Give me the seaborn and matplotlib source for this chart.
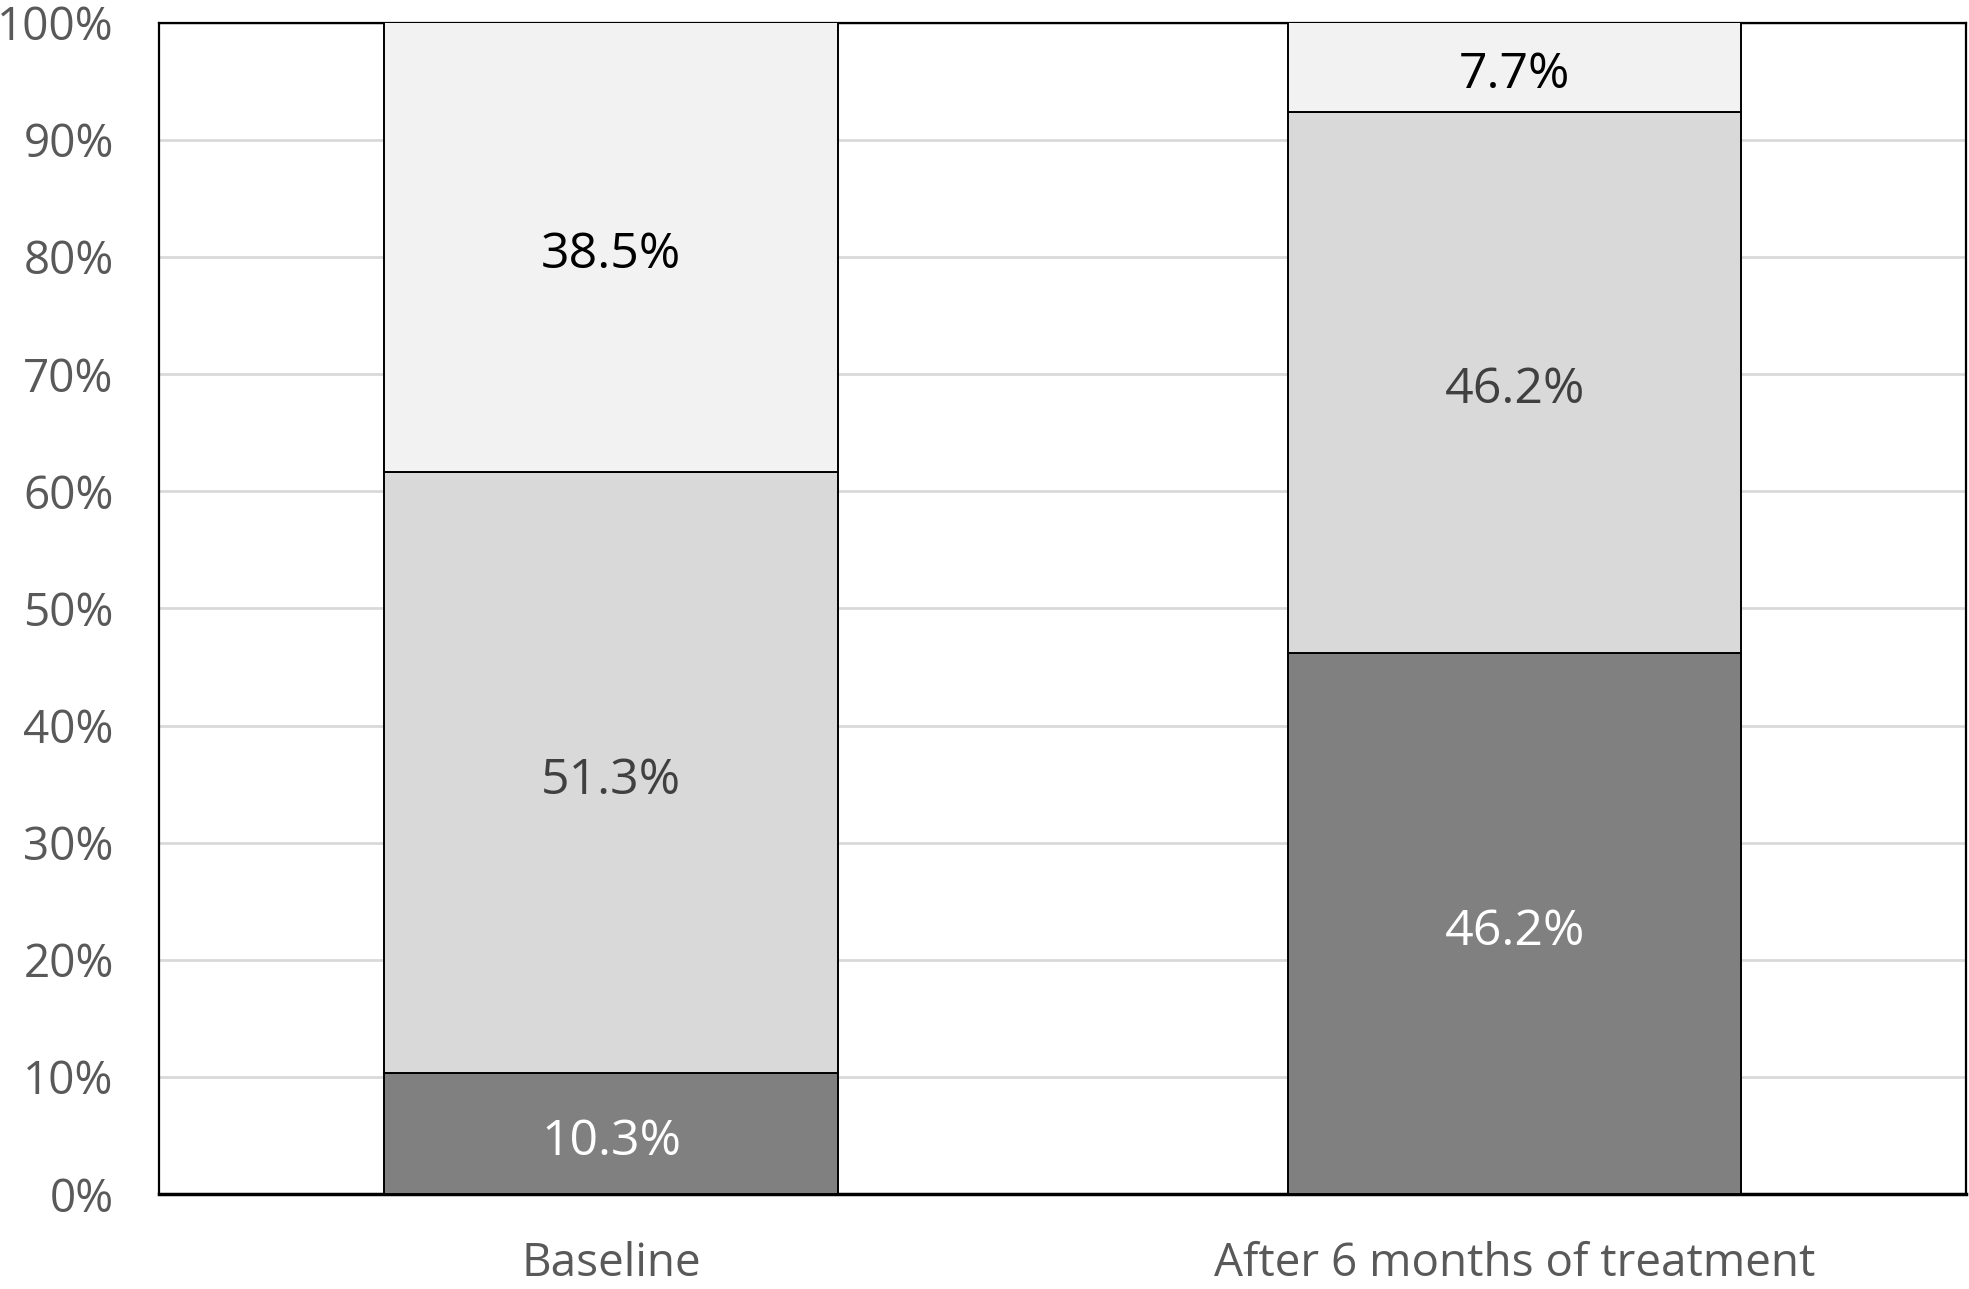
import matplotlib
matplotlib.use("Agg")
import matplotlib.pyplot as plt
import seaborn as sns
import numpy as np
import pandas as pd

categories = ["Baseline", "After 6 months of treatment"]
bottom_vals = [10.3, 46.2]
middle_vals = [51.3, 46.2]
top_vals = [38.5, 7.7]
yticks = [0, 10, 20, 30, 40, 50, 60, 70, 80, 90, 100]

colors = ["#808080", "#d9d9d9", "#f2f2f2"]
label_colors = [["#ffffff", "#ffffff"], ["#404040", "#404040"], ["#000000", "#000000"]]

sns.set_theme(style="white")
plt.rcParams['font.family'] = ['Open Sans', 'DejaVu Sans']

fig = plt.figure(figsize=(19.69, 12.89), dpi=100)
ax = fig.add_axes([0.081, 0.0736, 0.9177, 0.9089])

series = [bottom_vals, middle_vals, top_vals]
base = np.zeros(len(categories))
for i, vals in enumerate(series):
    df = pd.DataFrame({"cat": categories, "val": vals})
    sns.barplot(data=df, x="cat", y="val", order=categories, color=colors[i],
                width=0.502, bottom=base, edgecolor="black", linewidth=1.4,
                saturation=1, ax=ax, zorder=3, err_kws={'linewidth': 0})
    for j, v in enumerate(vals):
        ax.annotate(f"{v:.1f}%", xy=(j, base[j] + v / 2), xytext=(0, -6),
                    textcoords="offset points", ha="center", va="center",
                    fontsize=36, color=label_colors[i][j], zorder=5)
    base = base + np.array(vals)

ax.set_xlim(-0.5, 1.5)
ax.set_ylim(0, 100)
ax.set_yticks(yticks)
ax.set_yticklabels([f"{t}%" for t in yticks])
ax.yaxis.grid(True, color="#d9d9d9", linewidth=2, zorder=0)
ax.set_axisbelow(True)
ax.set_xlabel("")
ax.set_ylabel("")
ax.tick_params(axis="both", length=0, labelsize=33, colors="#595959")
ax.tick_params(axis="y", pad=33)
ax.tick_params(axis="x", pad=34)
for s in ["left", "right", "top"]:
    ax.spines[s].set_visible(True)
    ax.spines[s].set_color("black")
    ax.spines[s].set_linewidth(1.6)
ax.spines["bottom"].set_color("black")
ax.spines["bottom"].set_linewidth(2.5)

fig.savefig("out.png", dpi=100)
